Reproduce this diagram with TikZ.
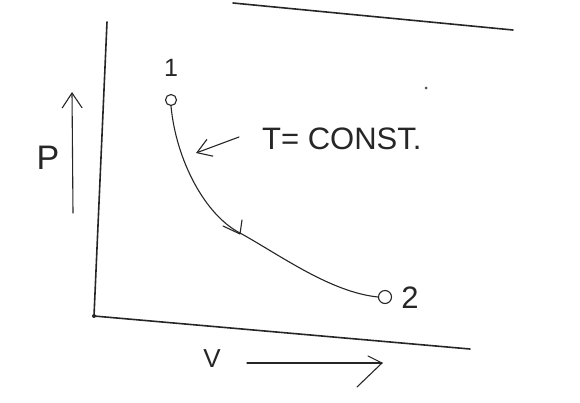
\documentclass[tikz,border=0pt]{standalone}
\usepackage{fontspec}
\setmainfont{Liberation Sans}
\usetikzlibrary{arrows.meta}
\begin{document}
\begin{tikzpicture}[x=1pt,y=-1pt,
  ink/.style={draw=black!85,line width=1.1pt,line cap=round,line join=round},
  axis/.style={draw=black!85,line width=1.6pt,line cap=round},
  pt/.style={circle,draw=black!85,line width=1.1pt,minimum size=11pt,inner sep=0pt},
  lbl/.style={text=black!85,inner sep=0pt,anchor=center}]
\useasboundingbox (0,0) rectangle (580,402);
% top line
\coordinate (t1) at (233,3);
\coordinate (t2) at (513,30);
\draw[axis] (t1) -- (t2);
% axes
\coordinate (o) at (94,316);
\coordinate (ytop) at (107,22);
\coordinate (xend) at (470,349);
\draw[axis] (ytop) -- (o) -- (xend);
\fill[black!85] (o) circle (2pt);
% P arrow
\node[lbl,font=\fontsize{34}{34}\selectfont] (P) at (48,158) {P};
\coordinate (pa) at (73,213);
\coordinate (pb) at (72,92);
\draw[ink,-{Straight Barb[length=15pt,width=20pt,line width=1.1pt]}] (pa) -- (pb);
% V arrow
\node[lbl,font=\fontsize{26}{26}\selectfont] (V) at (212,359) {V};
\coordinate (va) at (247,363);
\coordinate (vb) at (382,363);
\coordinate (vu) at (368,356);
\coordinate (vl) at (357,387);
\draw[ink] (va) -- (vb);
\draw[ink] (vu) -- (vb) -- (vl);
% points
\node[pt] (p1) at (171,100) {};
\node[lbl,font=\fontsize{25}{25}\selectfont] (l1) at (171,68) {1};
\node[pt,minimum size=13pt] (p2) at (385,297) {};
\node[lbl,font=\fontsize{31}{31}\selectfont] (l2) at (410,298) {2};
% isotherm
\draw[ink] (p1.south) .. controls (176,160) and (205,215) .. (240,233)
  .. controls (280,255) and (330,292) .. (p2.west);
% direction mark on curve
\coordinate (m) at (240,234);
\draw[ink] (223,226) -- (m) -- (242,220);
% T = const label
\node[lbl,font=\fontsize{31}{31}\selectfont,anchor=west] (T) at (262,139) {T= CONST.};
\coordinate (la) at (239,137);
\coordinate (lb) at (196,153);
\draw[ink,-{Straight Barb[length=14pt,width=18pt,line width=1.1pt]}] (la) -- (lb);
\fill[black!70] (426,88) circle (1.5pt);
\end{tikzpicture}
\end{document}
